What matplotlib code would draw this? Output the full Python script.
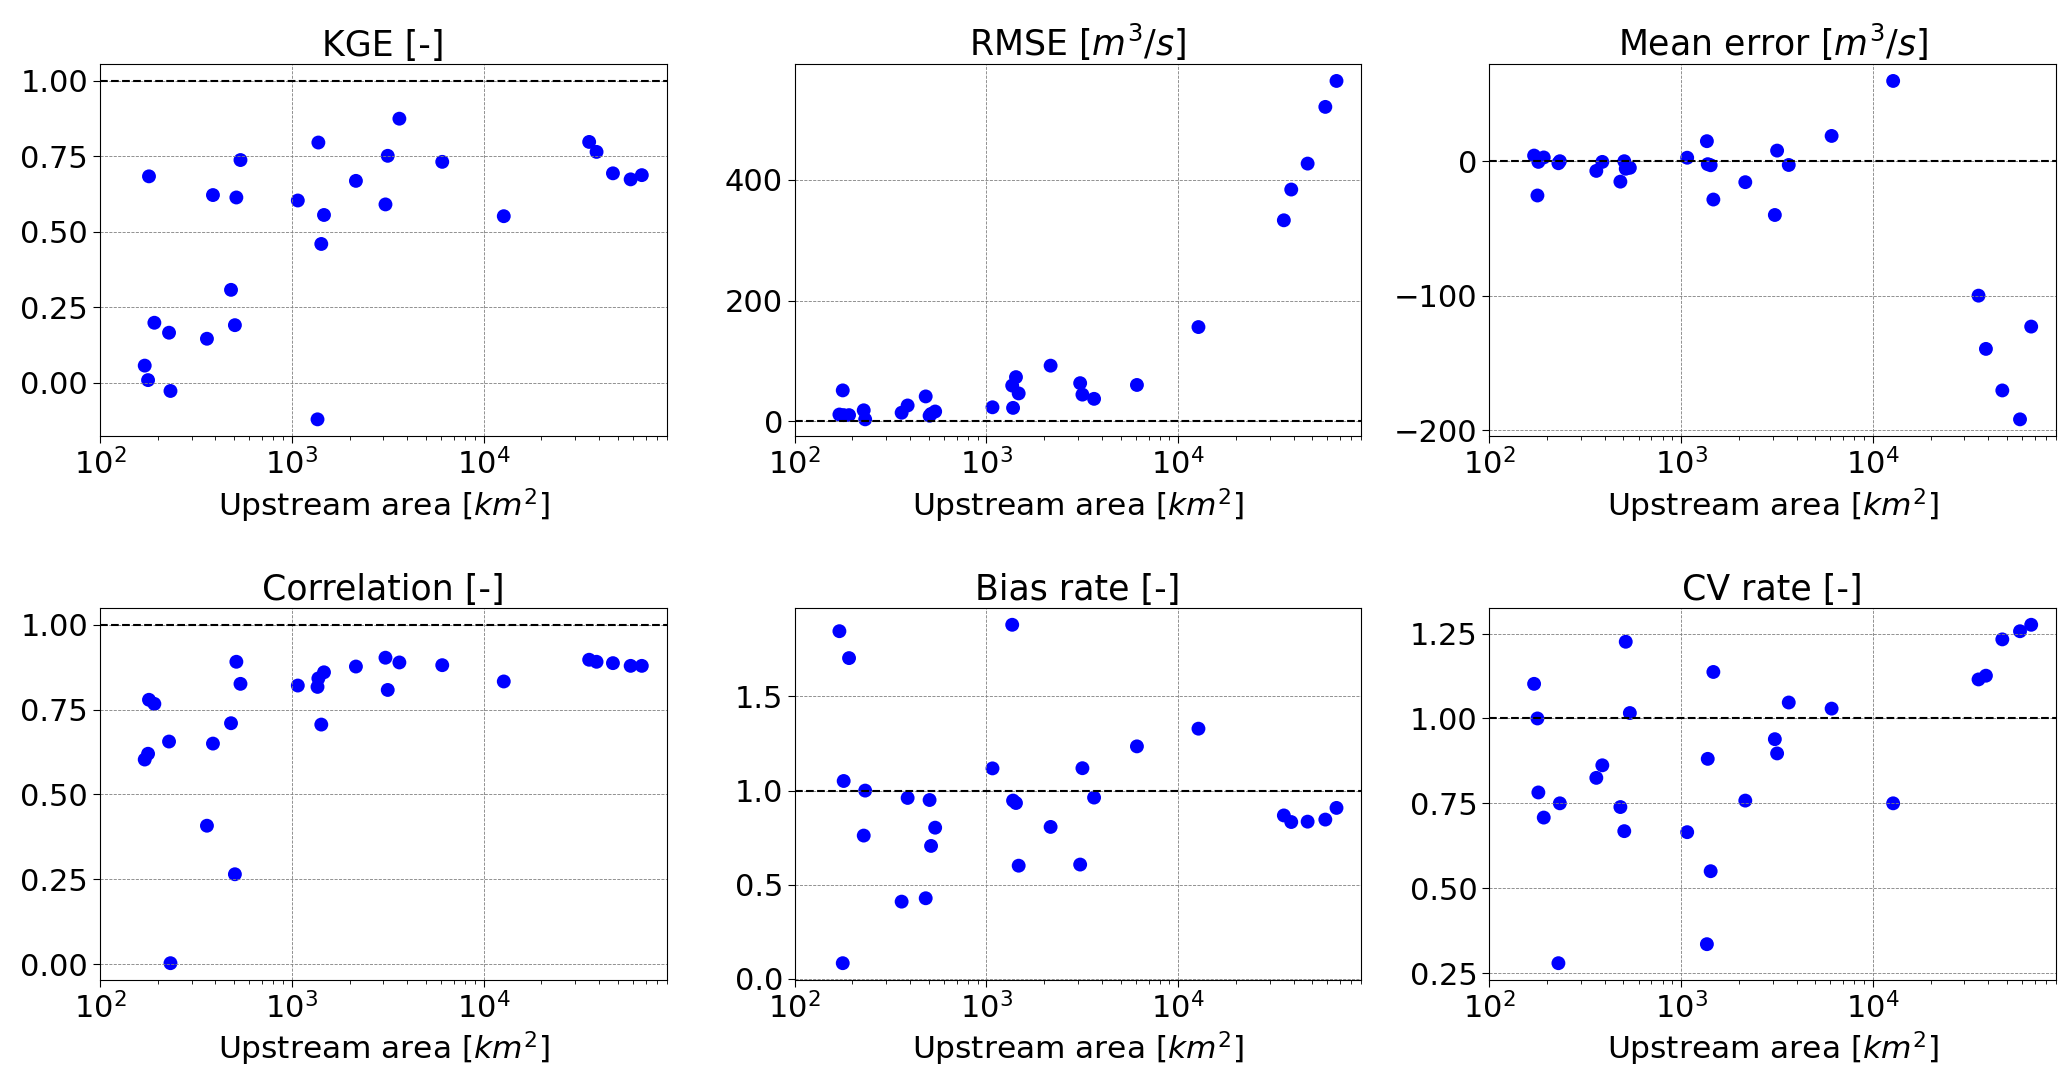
import matplotlib
matplotlib.use('Agg')
import matplotlib.pyplot as plt
from matplotlib.ticker import MultipleLocator

# Upstream area of each station [km2]
area = [171, 178, 180, 192, 229, 233, 361, 388, 482, 505, 514, 540, 1075, 1362,
        1376, 1425, 1472, 2160, 3080, 3165, 3640, 6090, 12750, 35550, 38850,
        47300, 58500, 66900]

kge = [0.057, 0.009, 0.684, 0.199, 0.166, -0.027, 0.146, 0.622, 0.308, 0.191,
       0.614, 0.738, 0.604, -0.121, 0.796, 0.460, 0.556, 0.669, 0.591, 0.752,
       0.875, 0.732, 0.552, 0.798, 0.765, 0.694, 0.674, 0.688]

rmse = [11, 51, 10, 10, 18, 3, 14, 26, 41, 9, 12, 16, 23, 59, 22, 73, 46, 92,
        63, 44, 37, 60, 156, 333, 384, 427, 521, 564]

mean_error = [4.2, -25.5, -0.5, 2.8, -1.5, 0.0, -7.2, -0.5, -15.2, 0.0, -5.6,
              -4.9, 2.6, 14.9, -2.2, -3.0, -28.5, -15.6, -40.0, 7.9, -2.8, 18.8,
              59.7, -100.0, -139.6, -170.5, -192.0, -123.0]

correlation = [0.603, 0.620, 0.779, 0.767, 0.656, 0.003, 0.408, 0.650, 0.710,
               0.265, 0.891, 0.826, 0.821, 0.817, 0.842, 0.706, 0.860, 0.877,
               0.903, 0.808, 0.889, 0.881, 0.833, 0.897, 0.891, 0.887, 0.879,
               0.879]

bias_rate = [1.847, 0.083, 1.051, 1.704, 0.761, 1.000, 0.410, 0.961, 0.428,
             0.950, 0.706, 0.803, 1.118, 1.881, 0.947, 0.934, 0.601, 0.807,
             0.607, 1.119, 0.963, 1.235, 1.329, 0.868, 0.833, 0.835, 0.846,
             0.908]

cv_rate = [1.102, 1.000, 0.782, 0.708, 0.279, 0.750, 0.825, 0.862, 0.739,
           0.668, 1.226, 1.016, 0.665, 0.335, 0.881, 0.550, 1.137, 0.758,
           0.939, 0.897, 1.047, 1.029, 0.750, 1.115, 1.126, 1.233, 1.257,
           1.276]

titles = ['KGE [-]', 'RMSE [$m^3/s$]', 'Mean error [$m^3/s$]',
          'Correlation [-]', 'Bias rate [-]', 'CV rate [-]']
series = [kge, rmse, mean_error, correlation, bias_rate, cv_rate]
ref_lines = [1.0, 0.0, 0.0, 1.0, 1.0, 1.0]
y_steps = [0.25, 200, 100, 0.25, 0.5, 0.25]
xlabel = 'Upstream area [$km^2$]'

fig, axes = plt.subplots(2, 3, figsize=(20.67, 10.89), dpi=100)
fig.subplots_adjust(left=0.0484, right=0.9947, top=0.9412, bottom=0.100,
                    wspace=0.226, hspace=0.461)

for ax, title, vals, ref, step in zip(axes.flat, titles, series, ref_lines, y_steps):
    ax.scatter(area, vals, s=100, color='blue', edgecolors='none')
    ax.axhline(ref, color='black', linestyle='--', linewidth=1.5)
    ax.set_xscale('log')
    ax.set_xlim(left=100)
    ax.yaxis.set_major_locator(MultipleLocator(step))
    ax.grid(True, which='major', linestyle='--', linewidth=0.6, color='grey')
    ax.set_title(title, fontsize=25)
    ax.set_xlabel(xlabel, fontsize=22.5)
    ax.tick_params(axis='both', which='major', labelsize=22, length=5)
    ax.tick_params(axis='both', which='minor', length=3)

fig.savefig('out.png', dpi=100)
